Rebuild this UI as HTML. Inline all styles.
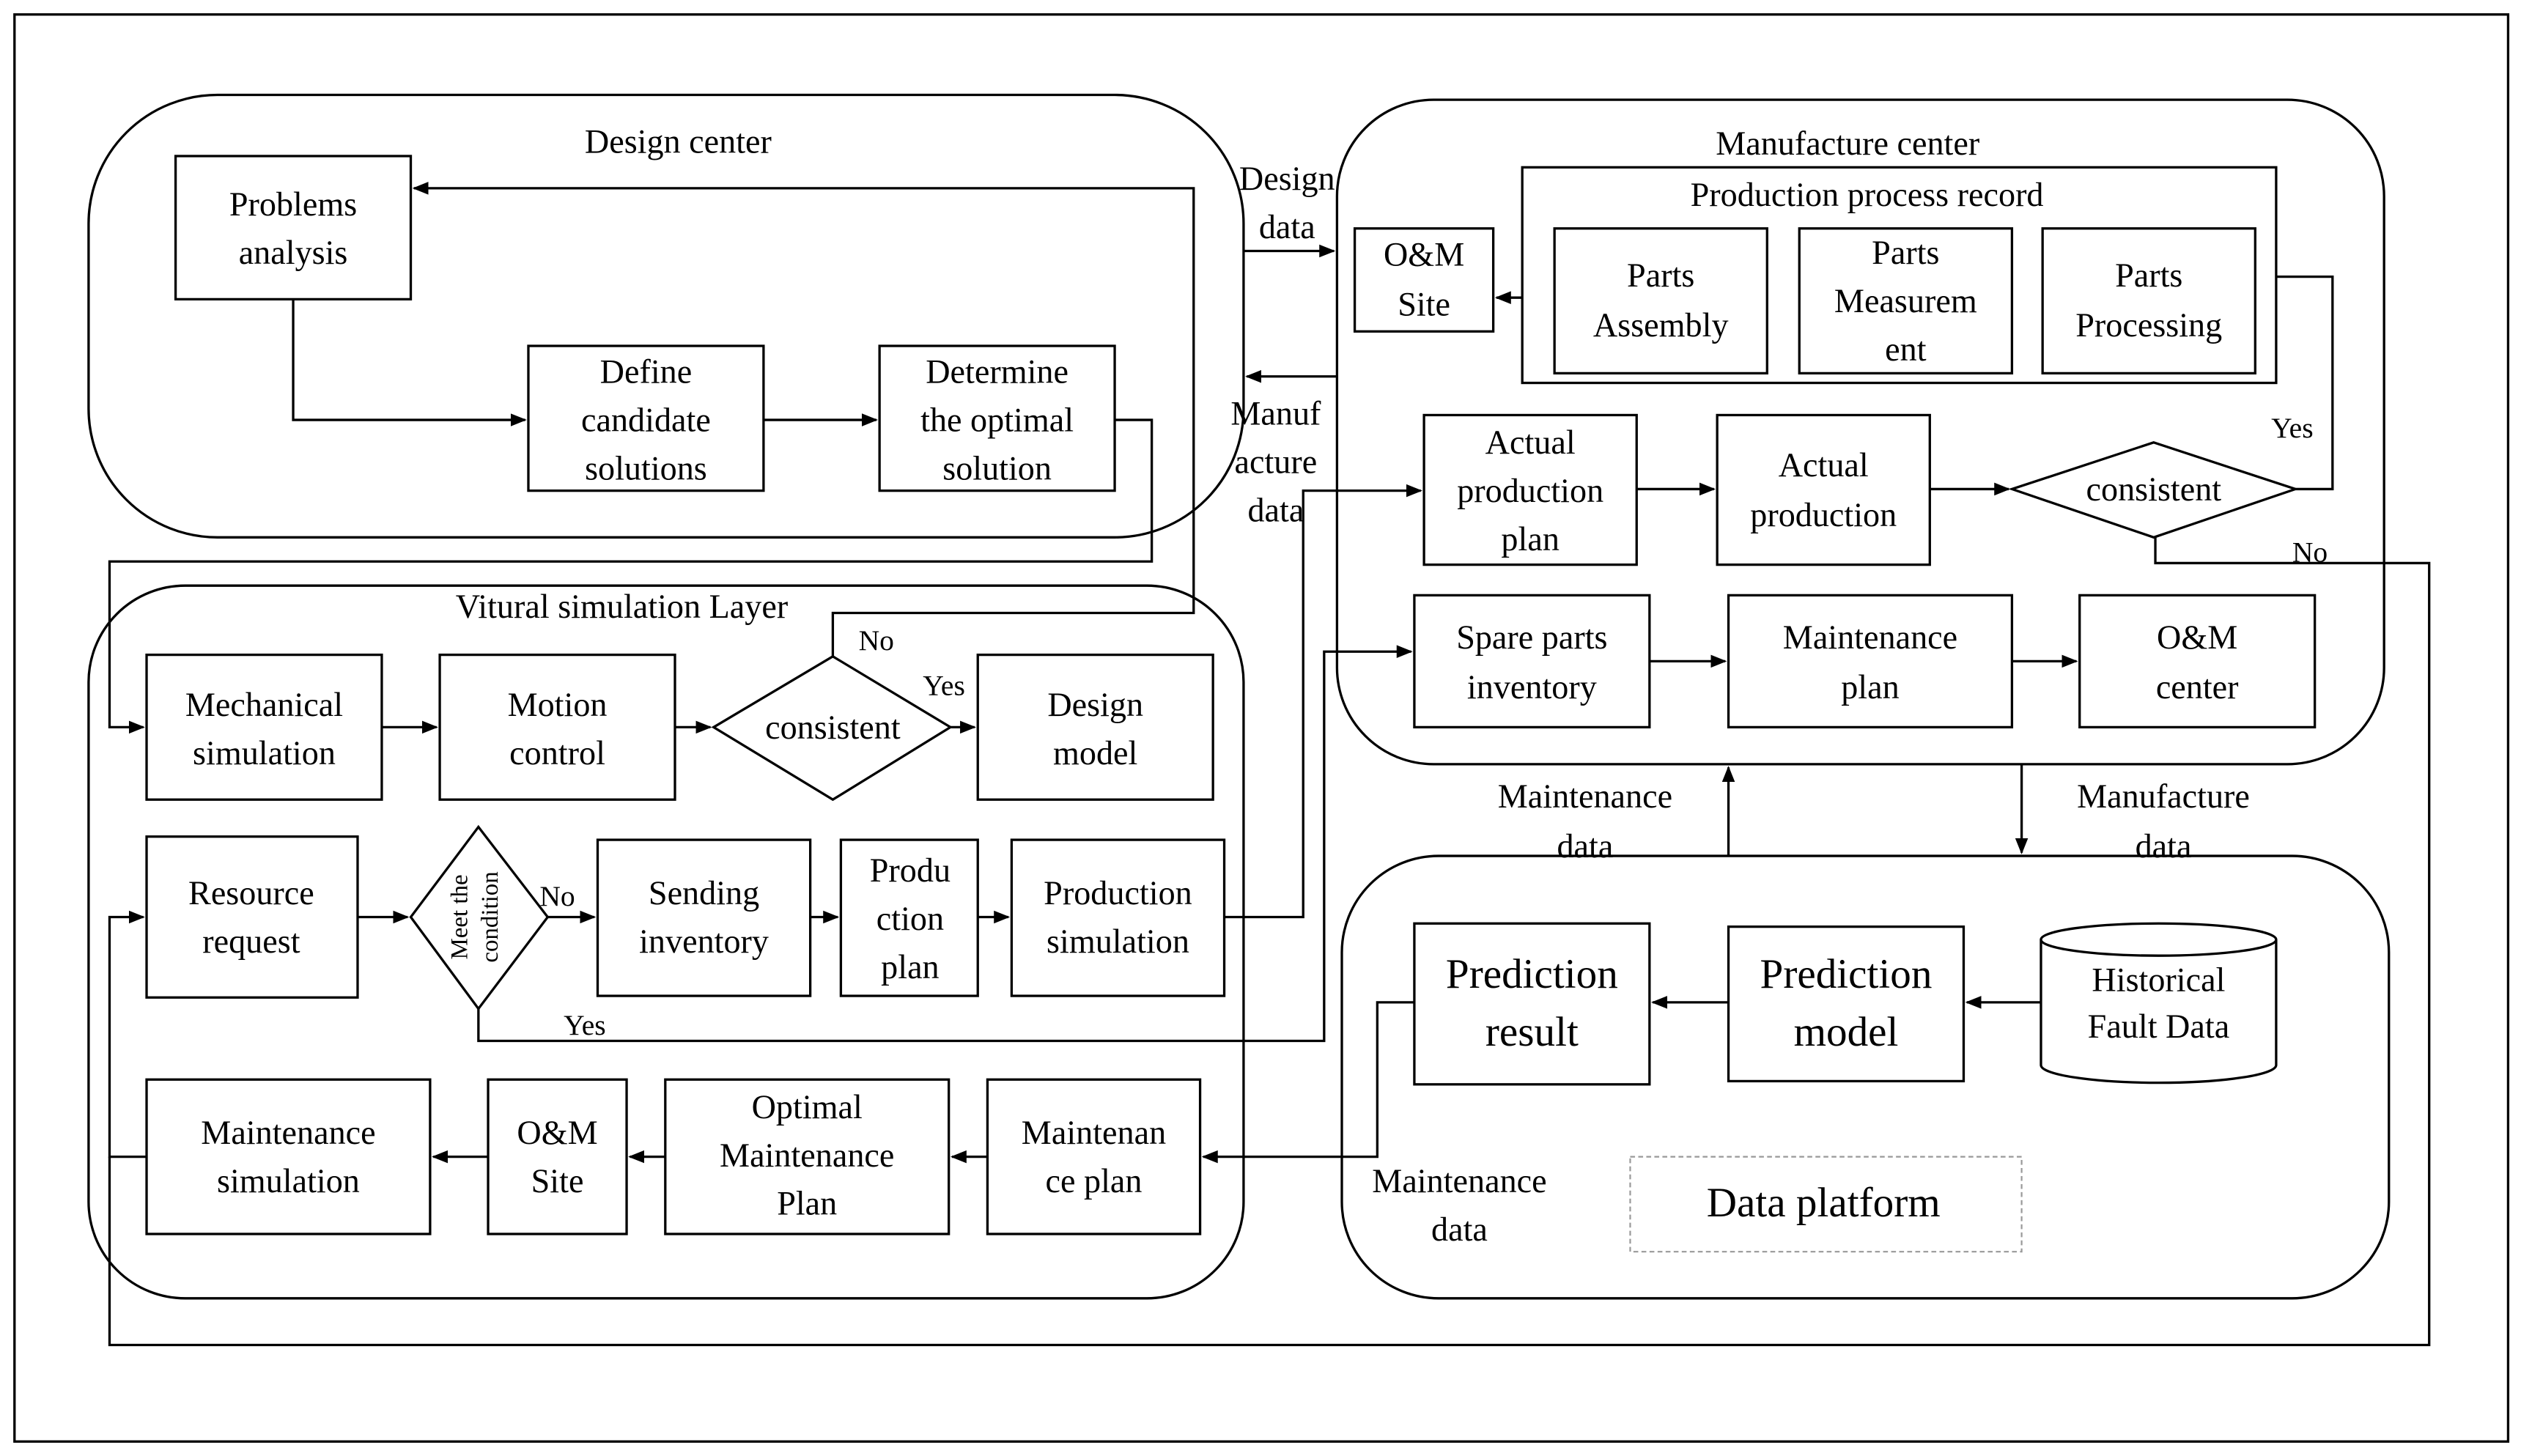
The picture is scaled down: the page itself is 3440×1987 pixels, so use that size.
<!DOCTYPE html>
<html><head><meta charset="utf-8"><style>
html,body{margin:0;padding:0;background:#fff;}
svg{display:block;}
text{font-family:"Liberation Serif",serif;font-size:21px;fill:#000;text-anchor:middle;}
.b{fill:#fff;stroke:#000;stroke-width:1.5;}
.l{fill:none;stroke:#000;stroke-width:1.5;}
</style></head><body>
<svg width="3440" height="1987" viewBox="0 0 1565 905" preserveAspectRatio="none" xmlns="http://www.w3.org/2000/svg">
<defs><marker id="a" markerWidth="10" markerHeight="10" refX="9" refY="5" orient="auto" markerUnits="userSpaceOnUse"><path d="M0,1 L10,5 L0,9 z" fill="#000"/></marker></defs>
<rect x="9" y="9" width="1548" height="887" class="l"/>
<!-- containers -->
<rect x="55" y="59" width="717" height="275" rx="80" class="l"/>
<rect x="830" y="62" width="650" height="413" rx="60" class="l"/>
<rect x="55" y="364" width="717" height="443" rx="60" class="l"/>
<rect x="833" y="532" width="650" height="275" rx="60" class="l"/>
<text x="421" y="95">Design center</text>
<text x="1147" y="96">Manufacture center</text>
<text x="386" y="384">Vitural simulation Layer</text>
<!-- connectors -->
<path class="l" d="M182,186 V261 H326" marker-end="url(#a)"/>
<path class="l" d="M474,261 H544" marker-end="url(#a)"/>
<path class="l" d="M692,261 H715 V349 H68 V452 H89" marker-end="url(#a)"/>
<path class="l" d="M517,408 V381 H741 V117 H257" marker-end="url(#a)"/>
<path class="l" d="M237,452 H271" marker-end="url(#a)"/>
<path class="l" d="M419,452 H441" marker-end="url(#a)"/>
<path class="l" d="M590,452 H605" marker-end="url(#a)"/>
<path class="l" d="M222,570 H253" marker-end="url(#a)"/>
<path class="l" d="M340,570 H369" marker-end="url(#a)"/>
<path class="l" d="M503,570 H520" marker-end="url(#a)"/>
<path class="l" d="M607,570 H626" marker-end="url(#a)"/>
<path class="l" d="M297,627 V647 H822 V405 H876" marker-end="url(#a)"/>
<path class="l" d="M760,570 H809 V305 H882" marker-end="url(#a)"/>
<path class="l" d="M613,719 H591" marker-end="url(#a)"/>
<path class="l" d="M413,719 H391" marker-end="url(#a)"/>
<path class="l" d="M303,719 H269" marker-end="url(#a)"/>
<path class="l" d="M91,719 H68 V570 H89" marker-end="url(#a)"/>
<path class="l" d="M68,719 V836 H1508 V350 H1338 V334"/>
<path class="l" d="M878,623 H855 V719 H747" marker-end="url(#a)"/>
<path class="l" d="M1073,623 H1026" marker-end="url(#a)"/>
<path class="l" d="M1267,623 H1221" marker-end="url(#a)"/>
<path class="l" d="M772,156 H828" marker-end="url(#a)"/>
<path class="l" d="M830,234 H774" marker-end="url(#a)"/>
<path class="l" d="M1073,532 V477" marker-end="url(#a)"/>
<path class="l" d="M1255,475 V530" marker-end="url(#a)"/>
<path class="l" d="M945,185 H929" marker-end="url(#a)"/>
<path class="l" d="M1016,304 H1064" marker-end="url(#a)"/>
<path class="l" d="M1198,304 H1247" marker-end="url(#a)"/>
<path class="l" d="M1425,304 H1448 V172 H1402" marker-end="url(#a)"/>
<path class="l" d="M1024,411 H1071" marker-end="url(#a)"/>
<path class="l" d="M1249,411 H1289" marker-end="url(#a)"/>
<!-- design center boxes -->
<rect x="109" y="97" width="146" height="89" class="b"/>
<text x="182" y="134">Problems</text><text x="182" y="164">analysis</text>
<rect x="328" y="215" width="146" height="90" class="b"/>
<text x="401" y="238">Define</text><text x="401" y="268">candidate</text><text x="401" y="298">solutions</text>
<rect x="546" y="215" width="146" height="90" class="b"/>
<text x="619" y="238">Determine</text><text x="619" y="268">the optimal</text><text x="619" y="298">solution</text>
<!-- virtual layer -->
<rect x="91" y="407" width="146" height="90" class="b"/>
<text x="164" y="445">Mechanical</text><text x="164" y="475">simulation</text>
<rect x="273" y="407" width="146" height="90" class="b"/>
<text x="346" y="445">Motion</text><text x="346" y="475">control</text>
<polygon points="517,408 590,452 517,497 443,452" class="b"/>
<text x="517" y="459">consistent</text>
<rect x="607" y="407" width="146" height="90" class="b"/>
<text x="680" y="445">Design</text><text x="680" y="475">model</text>
<text x="544" y="404" style="font-size:18px">No</text>
<text x="586" y="432" style="font-size:18px">Yes</text>
<rect x="91" y="520" width="131" height="100" class="b"/>
<text x="156" y="562">Resource</text><text x="156" y="592">request</text>
<polygon points="297,514 340,570 297,627 255,570" class="b"/>
<text transform="translate(290,570) rotate(-90)" style="font-size:15px" y="0">Meet the</text>
<text transform="translate(309,570) rotate(-90)" style="font-size:15px" y="0">condition</text>
<text x="346" y="563" style="font-size:18px">No</text>
<text x="363" y="643" style="font-size:18px">Yes</text>
<rect x="371" y="522" width="132" height="97" class="b"/>
<text x="437" y="562">Sending</text><text x="437" y="592">inventory</text>
<rect x="522" y="522" width="85" height="97" class="b"/>
<text x="565" y="548">Produ</text><text x="565" y="578">ction</text><text x="565" y="608">plan</text>
<rect x="628" y="522" width="132" height="97" class="b"/>
<text x="694" y="562">Production</text><text x="694" y="592">simulation</text>
<rect x="91" y="671" width="176" height="96" class="b"/>
<text x="179" y="711">Maintenance</text><text x="179" y="741">simulation</text>
<rect x="303" y="671" width="86" height="96" class="b"/>
<text x="346" y="711">O&amp;M</text><text x="346" y="741">Site</text>
<rect x="413" y="671" width="176" height="96" class="b"/>
<text x="501" y="695">Optimal</text><text x="501" y="725">Maintenance</text><text x="501" y="755">Plan</text>
<rect x="613" y="671" width="132" height="96" class="b"/>
<text x="679" y="711">Maintenan</text><text x="679" y="741">ce plan</text>
<!-- manufacture -->
<rect x="945" y="104" width="468" height="134" class="b"/>
<text x="1159" y="128">Production process record</text>
<rect x="965" y="142" width="132" height="90" class="b"/>
<text x="1031" y="178">Parts</text><text x="1031" y="209">Assembly</text>
<rect x="1117" y="142" width="132" height="90" class="b"/>
<text x="1183" y="164">Parts</text><text x="1183" y="194">Measurem</text><text x="1183" y="224">ent</text>
<rect x="1268" y="142" width="132" height="90" class="b"/>
<text x="1334" y="178">Parts</text><text x="1334" y="209">Processing</text>
<rect x="841" y="142" width="86" height="64" class="b"/>
<text x="884" y="165">O&amp;M</text><text x="884" y="196">Site</text>
<rect x="884" y="258" width="132" height="93" class="b"/>
<text x="950" y="282">Actual</text><text x="950" y="312">production</text><text x="950" y="342">plan</text>
<rect x="1066" y="258" width="132" height="93" class="b"/>
<text x="1132" y="296">Actual</text><text x="1132" y="327">production</text>
<polygon points="1337,275 1425,304 1337,334 1249,304" class="b"/>
<text x="1337" y="311">consistent</text>
<text x="1423" y="272" style="font-size:18px">Yes</text>
<text x="1434" y="349" style="font-size:18px">No</text>
<rect x="878" y="370" width="146" height="82" class="b"/>
<text x="951" y="403">Spare parts</text><text x="951" y="434">inventory</text>
<rect x="1073" y="370" width="176" height="82" class="b"/>
<text x="1161" y="403">Maintenance</text><text x="1161" y="434">plan</text>
<rect x="1291" y="370" width="146" height="82" class="b"/>
<text x="1364" y="403">O&amp;M</text><text x="1364" y="434">center</text>
<!-- flow labels -->
<text x="799" y="118">Design</text><text x="799" y="148">data</text>
<text x="792" y="264">Manuf</text><text x="792" y="294">acture</text><text x="792" y="324">data</text>
<text x="984" y="502">Maintenance</text><text x="984" y="533">data</text>
<text x="1343" y="502">Manufacture</text><text x="1343" y="533">data</text>
<text x="906" y="741">Maintenance</text><text x="906" y="771">data</text>
<!-- data platform -->
<rect x="878" y="574" width="146" height="100" class="b"/>
<text x="951" y="614" style="font-size:26px">Prediction</text><text x="951" y="650" style="font-size:26px">result</text>
<rect x="1073" y="576" width="146" height="96" class="b"/>
<text x="1146" y="614" style="font-size:26px">Prediction</text><text x="1146" y="650" style="font-size:26px">model</text>
<path class="b" d="M1267,584 V662 A73,11 0 0 0 1413,662 V584"/>
<ellipse cx="1340" cy="584" rx="73" ry="10" class="b"/>
<text x="1340" y="616">Historical</text><text x="1340" y="645">Fault Data</text>
<rect x="1012" y="719" width="243" height="59" fill="none" stroke="#999" stroke-width="1" stroke-dasharray="3,2"/>
<text x="1132" y="756" style="font-size:26px">Data platform</text>
</svg>
</body></html>
